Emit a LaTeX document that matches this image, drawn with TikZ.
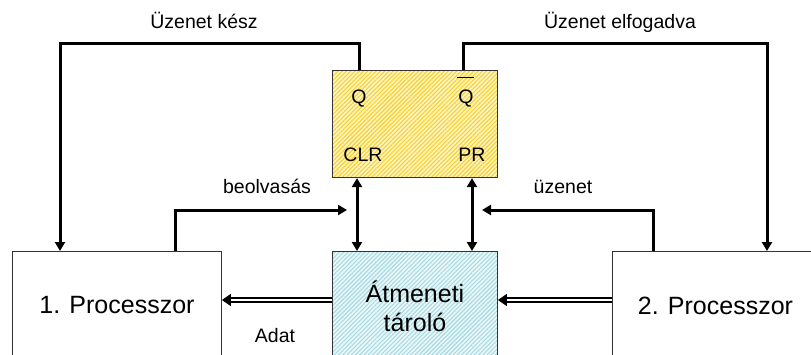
\documentclass[tikz,border=0pt]{standalone}
\usepackage{fontspec}
\setmainfont{Liberation Sans}
\usetikzlibrary{arrows.meta,patterns.meta}

\definecolor{ffback}{HTML}{FFF5BE}
\definecolor{ffline}{HTML}{F7D038}
\definecolor{bufback}{HTML}{EAF8FA}
\definecolor{bufline}{HTML}{A9DAE2}

\tikzset{
  box/.style={draw=black!80, line width=0.9pt, anchor=north west, inner sep=0pt,
    align=center, font=\fontsize{25}{29}\selectfont},
  ffbox/.style={box, preaction={fill=ffback},
    pattern={Lines[angle=45,distance=3pt,line width=1.1pt]}, pattern color=ffline},
  bufbox/.style={box, preaction={fill=bufback},
    pattern={Lines[angle=45,distance=3pt,line width=1.1pt]}, pattern color=bufline},
  lbl/.style={inner sep=0pt, anchor=base, font=\fontsize{19.5}{22}\selectfont},
  wire/.style={line width=3pt, line join=miter},
  tip/.style={-{Triangle[length=9pt,width=10pt]}},
  dtip/.style={{Triangle[length=9pt,width=10pt]}-{Triangle[length=9pt,width=10pt]}},
  dataflow/.style={double, double distance=2.6pt, line width=1.5pt,
    -{Triangle[length=9pt,width=12pt]}},
}

\begin{document}
\begin{tikzpicture}[x=1pt,y=-1pt]
  \useasboundingbox (0,0) rectangle (811,354);
  \clip (0,0) rectangle (811,354);

  % boxes
  \node[ffbox, minimum width=165pt, minimum height=107pt] (ff) at (332,70) {};
  \node[box, fill=white, minimum width=209pt, minimum height=108pt] (p1) at (12,251) {1. Processzor};
  \node[box, fill=white, minimum width=206pt, minimum height=108pt] (p2) at (612,251) {2. Processzor};
  \node[bufbox, minimum width=165pt, minimum height=110pt] (buf) at (332,251) {Átmeneti\\tároló};

  % flip-flop pin labels
  \node[lbl] (q)   at (359,103) {Q};
  \node[lbl] (qb)  at (466,103) {Q};
  \draw[line width=1pt] ([xshift=-1pt,yshift=12pt]qb.north west) -- ([yshift=12pt]qb.north east);
  \node[lbl] (clr) at (363,161) {CLR};
  \node[lbl] (pr)  at (472,161) {PR};

  % signal labels
  \node[lbl] (lkesz) at (204,28) {Üzenet kész};
  \node[lbl] (lelf)  at (620,28) {Üzenet elfogadva};
  \node[lbl] (lbeo)  at (267,193) {beolvasás};
  \node[lbl] (luz)   at (563,193) {üzenet};
  \node[lbl] (ladat) at (275,342) {Adat};

  % arrow ends of the request lines
  \coordinate (beoend) at (347,210);
  \coordinate (uzend)  at (482,210);

  % Q and not-Q outputs back to the processors
  \draw[wire, tip] (ff.north west -| 359,0) -- (359,43) -- (60,43) -- (p1.north west -| 60,0);
  \draw[wire, tip] (ff.north west -| 463,0) -- (463,43) -- (767,43) -- (p2.north west -| 767,0);

  % beolvasás / üzenet requests
  \draw[wire, tip] (p1.north west -| 175,0) -- (175,210) -- (beoend);
  \draw[wire, tip] (p2.north west -| 653,0) -- (653,210) -- (uzend);

  % CLR and PR links
  \draw[wire, dtip] (ff.south west -| 357,0) -- (buf.north west -| 357,0);
  \draw[wire, dtip] (ff.south west -| 472,0) -- (buf.north west -| 472,0);

  % data paths
  \draw[dataflow] (buf.north west |- 0,300) -- (p1.north east |- 0,300);
  \draw[dataflow] (p2.north west |- 0,300) -- (buf.north east |- 0,300);
\end{tikzpicture}
\end{document}
